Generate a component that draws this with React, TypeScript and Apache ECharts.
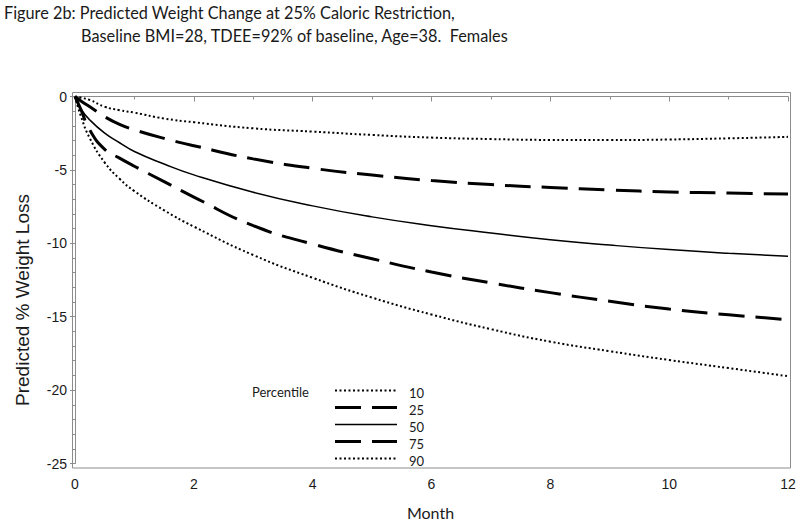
import React, { useEffect, useRef } from "react";
import * as echarts from "echarts";

const months = [0, 0.1, 0.25, 0.5, 0.75, 1, 1.5, 2, 3, 4, 5, 6, 7, 8, 9, 10, 11, 12];
const p10 = [0, -0.08, -0.24, -0.7, -0.93, -1.1, -1.5, -1.75, -2.17, -2.39, -2.62, -2.8, -2.9, -2.96, -2.97, -2.93, -2.85, -2.75];
const p25 = [0, -0.3, -0.7, -1.38, -1.9, -2.27, -2.85, -3.35, -4.25, -4.89, -5.35, -5.73, -6.0, -6.2, -6.37, -6.5, -6.58, -6.64];
const p50 = [0, -0.85, -1.6, -2.5, -3.15, -3.75, -4.6, -5.34, -6.52, -7.45, -8.2, -8.8, -9.3, -9.76, -10.12, -10.43, -10.68, -10.88];
const p75 = [0, -0.9, -2.3, -3.6, -4.2, -4.75, -5.8, -6.85, -8.8, -10.05, -11.05, -11.96, -12.7, -13.36, -13.95, -14.48, -14.87, -15.2];
const p90 = [0, -1.35, -2.85, -4.5, -5.6, -6.45, -7.75, -8.86, -10.8, -12.35, -13.7, -14.85, -15.85, -16.7, -17.35, -17.95, -18.5, -19.05];
const percentiles = ["10", "25", "50", "75", "90"];
const titleLines = [
  "Figure 2b: Predicted Weight Change at 25% Caloric Restriction,",
  "Baseline BMI=28, TDEE=92% of baseline, Age=38.  Females",
];

const dotted = { type: [2, 2.5] as number[], width: 2 };
const dashed = { type: [26, 11] as number[], width: 3 };
const solid = { type: "solid" as any, width: 1.5 };
const styles = [dotted, dashed, solid, dashed, dotted];

export default function App() {
  const ref = useRef<HTMLDivElement>(null);
  useEffect(() => {
    if (!ref.current) return;
    const chart = echarts.init(ref.current, null, { renderer: "svg" });
    const all = [p10, p25, p50, p75, p90];
    const tickFont = { fontFamily: "Liberation Sans", fontSize: 14, color: "#1a1a1a" };
    const legendX = 335;
    const legendY0 = 390.5;
    const legendStep = 17;
    const legendGraphics: any[] = [];
    percentiles.forEach((p, i) => {
      const y = legendY0 + i * legendStep;
      legendGraphics.push({
        type: "line",
        shape: { x1: legendX, y1: y, x2: legendX + 62, y2: y },
        style: { stroke: "#000", lineWidth: styles[i].width, lineDash: styles[i].type === "solid" ? null : styles[i].type },
        silent: true,
      });
      legendGraphics.push({
        type: "text",
        x: 409,
        y: y + 2,
        style: { text: p, fontFamily: "Lato", fontSize: 13, fill: "#1a1a1a", verticalAlign: "middle" },
        silent: true,
      });
    });
    chart.setOption({
      animation: false,
      backgroundColor: "#ffffff",
      grid: { left: 75, right: 12, top: 96.5, bottom: 60.5 },
      xAxis: {
        type: "value",
        min: 0,
        max: 12,
        interval: 2,
        offset: 4.5,
        axisLine: { show: true, lineStyle: { color: "#8c8c8c" } },
        axisTick: { show: true, length: 5, lineStyle: { color: "#8c8c8c" } },
        minorTick: { show: true, splitNumber: 2, length: 3, lineStyle: { color: "#8c8c8c" } },
        splitLine: { show: false },
        axisLabel: { ...tickFont, margin: 9 },
      },
      yAxis: {
        type: "value",
        min: -25,
        max: 0,
        interval: 5,
        offset: 3,
        axisLine: { show: true, lineStyle: { color: "#8c8c8c" } },
        axisTick: { show: true, length: 5, lineStyle: { color: "#8c8c8c" } },
        minorTick: { show: true, splitNumber: 5, length: 3, lineStyle: { color: "#8c8c8c" } },
        splitLine: { show: false },
        axisLabel: { ...tickFont, margin: 5 },
      },
      series: all.map((vals, i) => ({
        name: percentiles[i],
        type: "line",
        data: months.map((m, j) => [m, vals[j]]),
        showSymbol: false,
        symbol: "none",
        smooth: 0.5,
        lineStyle: { color: "#000000", type: styles[i].type, width: styles[i].width },
        itemStyle: { color: "#000000" },
      })),
      graphic: [
        {
          type: "rect",
          shape: { x: 72.5, y: 92.5, width: 718, height: 375.5 },
          style: { fill: "none", stroke: "#8c8c8c", lineWidth: 1 },
          silent: true,
        },
        {
          type: "text",
          x: 4,
          y: 12,
          style: { text: titleLines[0], fontFamily: "Lato", fontSize: 16.3, fill: "#1a1a1a", verticalAlign: "middle" },
        },
        {
          type: "text",
          x: 81,
          y: 35,
          style: { text: titleLines[1], fontFamily: "Lato", fontSize: 16.3, fill: "#1a1a1a", verticalAlign: "middle" },
        },
        {
          type: "text",
          x: 252,
          y: 392,
          style: { text: "Percentile", fontFamily: "Lato", fontSize: 13, fill: "#1a1a1a", verticalAlign: "middle" },
        },
        {
          type: "text",
          x: 22,
          y: 300,
          rotation: Math.PI / 2,
          style: { text: "Predicted % Weight Loss", fontFamily: "Liberation Sans", fontSize: 19, fill: "#1a1a1a", align: "center", verticalAlign: "middle" },
        },
        {
          type: "text",
          x: 430.5,
          y: 512,
          style: { text: "Month", fontFamily: "Lato", fontSize: 16, fill: "#1a1a1a", align: "center", verticalAlign: "middle" },
        },
        ...legendGraphics,
      ],
    });
    return () => chart.dispose();
  }, []);
  return <div ref={ref} style={{ position: "fixed", left: 0, top: 0, width: 800, height: 524, background: "#fff" }} />;
}
